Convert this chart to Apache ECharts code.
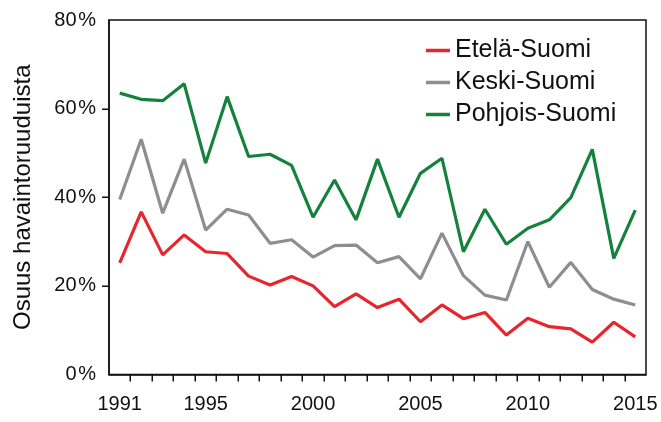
<!DOCTYPE html>
<html>
<head>
<meta charset="utf-8">
<script src="https://cdn.jsdelivr.net/npm/echarts@6/dist/echarts.min.js"></script>
<style>html,body{margin:0;padding:0;background:#fff}#c{width:661px;height:422px}</style>
</head>
<body>
<div id="c"></div>
<script>
var years = ['1991','1992','1993','1994','1995','1996','1997','1998','1999','2000','2001','2002','2003','2004','2005','2006','2007','2008','2009','2010','2011','2012','2013','2014','2015'];
var shownYears = ['1991','1995','2000','2005','2010','2015'];
var yTicks = [20, 40, 60];
var etela = [25.2, 36.7, 27.0, 31.5, 27.7, 27.3, 22.2, 20.2, 22.1, 20.0, 15.3, 18.2, 15.1, 17.0, 11.9, 15.7, 12.6, 14.0, 8.9, 12.7, 10.8, 10.3, 7.3, 11.8, 8.5];
var keski = [39.5, 53.1, 36.4, 48.6, 32.6, 37.3, 36.0, 29.6, 30.4, 26.5, 29.1, 29.2, 25.2, 26.6, 21.6, 31.9, 22.3, 17.9, 16.8, 30.0, 19.7, 25.3, 19.2, 17.0, 15.7];
var pohjois = [63.5, 62.1, 61.8, 65.6, 47.7, 62.7, 49.2, 49.7, 47.2, 35.5, 43.9, 34.9, 48.6, 35.5, 45.4, 48.8, 27.7, 37.3, 29.4, 33.0, 34.9, 39.9, 50.8, 26.2, 37.1];
var seriesNames = ['Etelä-Suomi', 'Keski-Suomi', 'Pohjois-Suomi'];
var colors = ['#e8252b', '#8e8e90', '#14823d'];
var font = 'Liberation Sans, Arial, sans-serif';
var TICK = 7;

var chart = echarts.init(document.getElementById('c'), null, {renderer: 'canvas'});
function mk(name, data, color) {
  return {
    name: name, type: 'line', data: data, symbol: 'none', z: 3,
    lineStyle: {color: color, width: 3.2}, itemStyle: {color: color},
    animation: false
  };
}
// x ticks: at the boundary after each year band (except the last, which is the frame)
var xTickData = years.slice(0, years.length - 1).map(function (y) { return [y, 0]; });
var yTickData = yTicks.map(function (v) { return [years[0], v]; });

chart.setOption({
  animation: false,
  backgroundColor: '#fff',
  grid: {left: 109, right: 15, top: 20, bottom: 47.5, show: true, borderColor: '#111', borderWidth: 1.5},
  legend: {
    orient: 'vertical', left: 421, top: 33, itemGap: 7,
    icon: 'rect', itemWidth: 24, itemHeight: 3.5, itemStyle: {borderWidth: 0},
    textStyle: {fontFamily: font, fontSize: 25, color: '#111', padding: [0, 0, 0, 0]},
    data: seriesNames
  },
  xAxis: {
    type: 'category', data: years, boundaryGap: true,
    axisLine: {show: true, lineStyle: {color: '#111', width: 1.5}},
    axisTick: {show: false},
    axisLabel: {interval: function (i, v) { return shownYears.indexOf(v) >= 0; },
      fontFamily: font, fontSize: 20, color: '#111', margin: 20},
    splitLine: {show: false}
  },
  yAxis: {
    type: 'value', min: 0, max: 80, interval: 20,
    name: 'Osuus havaintoruuduista', nameLocation: 'middle', nameGap: 74,
    nameTextStyle: {fontFamily: font, fontSize: 24, color: '#111'},
    axisLine: {show: true, lineStyle: {color: '#111', width: 1.5}},
    axisTick: {show: false},
    axisLabel: {formatter: function (v) { return v + '\u200A%'; }, fontFamily: font, fontSize: 20, color: '#111', margin: 13},
    splitLine: {show: false}
  },
  series: [
    mk(seriesNames[0], etela, colors[0]),
    mk(seriesNames[1], keski, colors[1]),
    mk(seriesNames[2], pohjois, colors[2]),
    {
      type: 'custom', name: 'xticks', data: xTickData, clip: false, silent: true, z: 5,
      renderItem: function (params, api) {
        var c = api.coord([api.value(0), 0]);
        var w = api.size([1, 0])[0];
        var x = Math.round(c[0] + w / 2) + 0.25;
        return {type: 'line', shape: {x1: x, y1: c[1], x2: x, y2: c[1] + TICK},
          style: {stroke: '#111', lineWidth: 1.5}};
      }
    },
    {
      type: 'custom', name: 'yticks', data: yTickData, clip: false, silent: true, z: 5,
      renderItem: function (params, api) {
        var c = api.coord([api.value(0), api.value(1)]);
        var w = api.size([1, 0])[0];
        var x = c[0] - w / 2;
        var y = Math.round(c[1]) + 0.25;
        return {type: 'line', shape: {x1: x - TICK, y1: y, x2: x, y2: y},
          style: {stroke: '#111', lineWidth: 1.5}};
      }
    }
  ]
});
</script>
</body>
</html>
